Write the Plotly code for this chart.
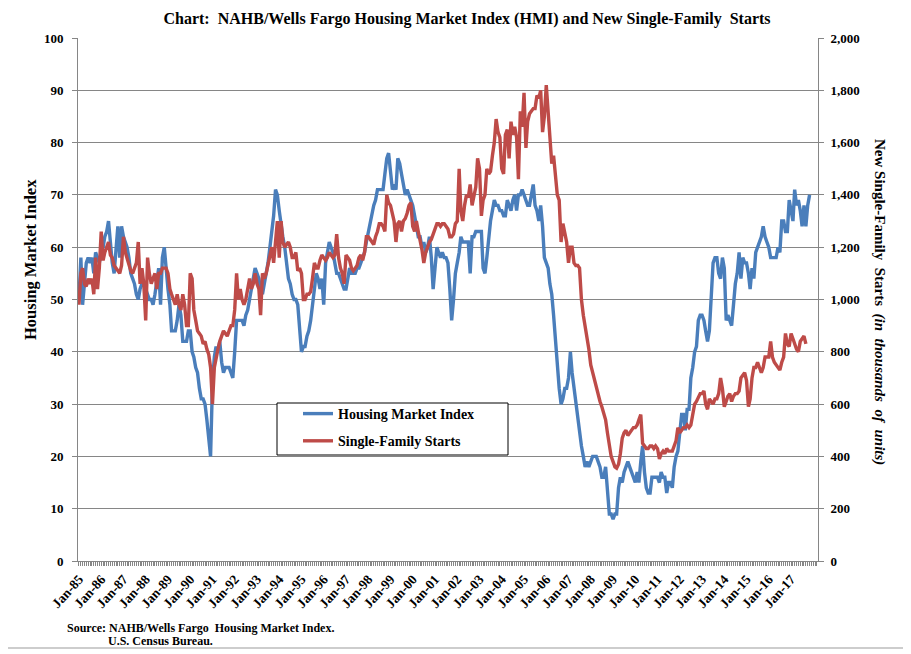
import pandas as pd
import plotly.graph_objects as go

# NAHB/Wells Fargo Housing Market Index, monthly, Jan 1985 - Nov 2017
hmi = [
    50, 58, 49, 54, 57, 58, 57, 58, 55, 59, 58, 57,   # 1985
    59, 60, 62, 63, 65, 60, 57, 55, 60, 64, 58, 64,   # 1986
    62, 61, 60, 58, 55, 54, 53, 51, 50, 52, 53, 53,   # 1987
    52, 51, 50, 50, 49, 51, 53, 56, 49, 58, 60, 55,   # 1988
    52, 49, 44, 44, 44, 46, 49, 47, 42, 42, 42, 44,   # 1989
    44, 40, 39, 37, 36, 33, 31, 31, 30, 27, 23, 20,   # 1990
    34, 39, 41, 40, 42, 38, 36, 37, 37, 37, 36, 35,   # 1991
    40, 46, 46, 46, 46, 45, 47, 48, 50, 52, 54, 56,   # 1992
    55, 54, 52, 51, 53, 55, 57, 60, 63, 66, 71, 70,   # 1993
    67, 64, 62, 60, 57, 54, 53, 51, 50, 50, 49, 45,   # 1994
    40, 41, 41, 43, 44, 46, 49, 51, 55, 54, 52, 54,   # 1995
    49, 57, 59, 61, 60, 59, 57, 55, 55, 54, 53, 52,   # 1996
    52, 54, 56, 55, 55, 55, 56, 56, 57, 58, 59, 61,   # 1997
    63, 65, 66, 68, 69, 71, 71, 71, 71, 74, 77, 78,   # 1998
    75, 71, 72, 71, 77, 76, 74, 72, 70, 71, 70, 69,   # 1999
    68, 66, 64, 62, 62, 60, 61, 59, 60, 62, 58, 52,   # 2000
    56, 60, 59, 58, 59, 58, 58, 57, 52, 46, 50, 55,   # 2001
    57, 59, 62, 61, 61, 61, 61, 55, 62, 62, 63, 63,   # 2002
    63, 63, 56, 55, 58, 62, 65, 67, 69, 68, 68, 67,   # 2003
    67, 66, 66, 69, 68, 67, 69, 70, 67, 70, 70, 71,   # 2004
    70, 69, 68, 68, 70, 72, 68, 67, 65, 68, 64, 58,   # 2005
    57, 56, 53, 51, 47, 42, 39, 33, 30, 31, 33, 33,   # 2006
    35, 40, 36, 33, 30, 28, 24, 22, 20, 18, 19, 18,   # 2007
    19, 20, 20, 20, 19, 18, 16, 16, 18, 14, 9, 9,     # 2008
    8, 9, 9, 14, 16, 15, 17, 18, 19, 18, 17, 16,      # 2009
    15, 17, 15, 19, 22, 17, 14, 13, 13, 16, 16, 16,   # 2010
    16, 15, 17, 16, 16, 13, 15, 15, 14, 18, 20, 21,   # 2011
    25, 28, 28, 25, 29, 29, 35, 37, 40, 41, 46, 47,   # 2012
    47, 46, 44, 42, 44, 52, 57, 58, 58, 55, 54, 58,   # 2013
    56, 46, 47, 46, 45, 49, 53, 55, 59, 54, 58, 57,   # 2014
    57, 55, 52, 56, 54, 59, 60, 61, 62, 64, 62, 61,   # 2015
    60, 58, 58, 58, 58, 60, 59, 65, 65, 63, 63, 69,   # 2016
    67, 65, 71, 68, 69, 67, 64, 68, 64, 68, 70,       # 2017
]

# New single-family starts (thousands of units, SAAR), Jan 1985 - Sep 2017
starts = [
    980, 1100, 1120, 1060, 1050, 1080, 1060, 1080, 1020, 1160, 1040, 1120,   # 1985
    1260, 1150, 1180, 1200, 1220, 1170, 1160, 1130, 1120, 1110, 1100, 1130,  # 1986
    1240, 1180, 1160, 1130, 1110, 1100, 1120, 1140, 1220, 1060, 1120, 1060,  # 1987
    920, 1160, 1100, 1060, 1080, 1100, 1040, 1100, 1100, 1120, 1120, 1120,   # 1988
    1100, 1040, 1020, 1000, 980, 1020, 980, 960, 1020, 980, 900, 900,        # 1989
    1100, 1080, 960, 920, 880, 870, 860, 830, 840, 810, 790, 740,            # 1990
    600, 740, 780, 810, 840, 860, 880, 870, 860, 880, 900, 900,              # 1991
    960, 1100, 1000, 1040, 1000, 980, 1000, 1040, 1080, 1040, 1060, 1100,    # 1992
    1060, 1040, 940, 1100, 1080, 1100, 1130, 1160, 1200, 1140, 1220, 1300,   # 1993
    1160, 1300, 1220, 1200, 1210, 1220, 1200, 1160, 1160, 1180, 1110, 1120,  # 1994
    1100, 1000, 1000, 1020, 1020, 1030, 1080, 1140, 1120, 1120, 1150, 1170,  # 1995
    1160, 1150, 1160, 1180, 1170, 1160, 1170, 1250, 1160, 1120, 1100, 1060,  # 1996
    1170, 1160, 1150, 1120, 1110, 1120, 1130, 1160, 1170, 1150, 1180, 1240,  # 1997
    1240, 1230, 1220, 1210, 1240, 1260, 1290, 1290, 1280, 1260, 1400, 1370,  # 1998
    1360, 1320, 1300, 1220, 1290, 1300, 1260, 1300, 1310, 1330, 1360, 1370,  # 1999
    1280, 1260, 1300, 1260, 1230, 1190, 1140, 1180, 1200, 1220, 1230, 1250,  # 2000
    1270, 1290, 1290, 1280, 1290, 1290, 1280, 1270, 1240, 1240, 1250, 1290,  # 2001
    1300, 1500, 1340, 1300, 1360, 1400, 1390, 1440, 1360, 1400, 1430, 1540,  # 2002
    1500, 1320, 1380, 1400, 1500, 1480, 1490, 1550, 1600, 1690, 1640, 1620,  # 2003
    1500, 1480, 1630, 1650, 1540, 1680, 1630, 1660, 1620, 1460, 1720, 1660,  # 2004
    1790, 1580, 1680, 1710, 1720, 1730, 1730, 1780, 1770, 1800, 1640, 1700,  # 2005
    1820, 1720, 1620, 1520, 1550, 1470, 1400, 1380, 1220, 1290, 1250, 1220,  # 2006
    1140, 1200, 1200, 1140, 1130, 1130, 1120, 1000, 940, 900, 860, 810,      # 2007
    750, 720, 690, 670, 640, 610, 590, 560, 540, 490, 440, 400,              # 2008
    380, 360, 355, 370, 410, 470, 490, 500, 480, 490, 500, 510,              # 2009
    510, 520, 540, 560, 450, 440, 430, 430, 440, 440, 430, 440,              # 2010
    430, 390, 410, 420, 410, 430, 420, 420, 420, 440, 460, 510,              # 2011
    490, 500, 510, 510, 520, 510, 520, 560, 600, 610, 630, 640,              # 2012
    640, 650, 600, 580, 620, 610, 600, 620, 620, 640, 700, 660,              # 2013
    590, 610, 630, 640, 610, 630, 640, 640, 650, 700, 710, 720,              # 2014
    690, 590, 620, 700, 740, 740, 760, 740, 720, 740, 780, 780,              # 2015
    780, 840, 780, 760, 750, 740, 730, 760, 780, 870, 830, 820,              # 2016
    870, 850, 830, 810, 800, 840, 850, 860, 830,                             # 2017
]

start_month = "1985-01-01"
x_hmi = pd.date_range(start_month, periods=len(hmi), freq="MS")
x_starts = pd.date_range(start_month, periods=len(starts), freq="MS")
tick_dates = x_hmi[::12]                      # Jan-85 ... Jan-17
tick_labels = [d.strftime("%b-%y") for d in tick_dates]

FONT = "Liberation Serif"
BLUE = "#4A7EBB"
RED = "#BE4B48"
GRID = "#868686"

# the page body adds an 8px margin; positions below are window pixels
OFF = 8
W, H = 911 - OFF, 654 - OFF
L, R, T, B = 78, 818, 38, 561          # plot area in window pixels
def px(x):
    return (x - L) / (R - L)
def py(y):
    return (B - y) / (B - T)

fig = go.Figure()
fig.add_trace(go.Scatter(
    x=x_hmi, y=hmi, name="Housing Market Index", mode="lines",
    line=dict(color=BLUE, width=3.4), legendgroup="hmi"))
fig.add_trace(go.Scatter(
    x=x_starts, y=starts, name="Single-Family Starts", mode="lines",
    yaxis="y2", line=dict(color=RED, width=3.4), legendgroup="starts"))

fig.update_layout(
    width=W, height=H,
    margin=dict(l=L - OFF, r=W - (R - OFF), t=T - OFF, b=H - (B - OFF)),
    paper_bgcolor="white", plot_bgcolor="white",
    font=dict(family=FONT, color="black", size=13),
    title=dict(
        text="Chart:  NAHB/Wells Fargo Housing Market Index (HMI) and New Single-Family  Starts",
        x=(467 - OFF) / W, xanchor="center", y=1 - (18 - OFF) / H, yanchor="middle",
        font=dict(family=FONT, size=16, weight="bold", color="black")),
    xaxis=dict(
        type="date", range=["1984-12-16", "2018-03-19"],
        tickmode="array", tickvals=tick_dates, ticktext=tick_labels, tickangle=-48,
        showgrid=False, zeroline=False, showline=True, linecolor=GRID,
        ticks="outside", ticklen=4, tickcolor=GRID,
        minor=dict(tickmode="linear", tick0="1985-01-01", dtick="M1",
                   ticks="outside", ticklen=4, tickcolor=GRID, showgrid=False),
        tickfont=dict(family=FONT, size=13.5, weight="bold", color="black")),
    yaxis=dict(
        range=[0, 100], dtick=10, showgrid=True, gridcolor=GRID, gridwidth=1,
        zeroline=False, showline=True, linecolor=GRID,
        ticks="outside", ticklen=5, tickcolor=GRID, ticklabelstandoff=6,
        tickfont=dict(family=FONT, size=13, weight="bold", color="black")),
    yaxis2=dict(
        range=[0, 2000], dtick=200, tickformat=",d", overlaying="y", side="right",
        showgrid=False, zeroline=False, showline=True, linecolor=GRID,
        ticks="outside", ticklen=5, tickcolor=GRID, ticklabelstandoff=4,
        tickfont=dict(family=FONT, size=13, weight="bold", color="black")),
    legend=dict(
        x=px(298), y=py(398), xanchor="left", yanchor="top",
        bgcolor="rgba(0,0,0,0)", borderwidth=0, tracegroupgap=6,
        font=dict(family=FONT, size=14, weight="bold", color="black")),
    showlegend=True,
)

# legend frame
fig.add_shape(type="rect", xref="paper", yref="paper",
              x0=px(277), x1=px(508), y0=py(455), y1=py(403),
              line=dict(color="black", width=1), fillcolor="white", layer="above")
# outer chart-area border (right and bottom edges)
fig.add_shape(type="line", xref="paper", yref="paper",
              x0=px(906), x1=px(906), y0=py(648), y1=py(8),
              line=dict(color="#BDBDBD", width=1.5))
fig.add_shape(type="line", xref="paper", yref="paper",
              x0=px(8), x1=px(906), y0=py(648), y1=py(648),
              line=dict(color="#BDBDBD", width=1.5))

fig.add_annotation(text="<b>Housing Market Index</b>", xref="paper", yref="paper",
                   x=px(30), y=py(260), textangle=-90, showarrow=False,
                   xanchor="center", yanchor="middle",
                   font=dict(family=FONT, size=16.5, color="black"))
fig.add_annotation(text="<b>New Single-Family  Starts  <i>(in  thousands  of  units)</i></b>",
                   xref="paper", yref="paper",
                   x=px(880), y=py(302), textangle=90, showarrow=False,
                   xanchor="center", yanchor="middle",
                   font=dict(family=FONT, size=15, color="black"))
fig.add_annotation(text="<b>Source: NAHB/Wells Fargo  Housing Market Index.</b>",
                   xref="paper", yref="paper", x=px(65), y=py(628),
                   xanchor="left", yanchor="middle", showarrow=False,
                   font=dict(family=FONT, size=12, color="black"))
fig.add_annotation(text="<b>U.S. Census Bureau.</b>",
                   xref="paper", yref="paper", x=px(106), y=py(641),
                   xanchor="left", yanchor="middle", showarrow=False,
                   font=dict(family=FONT, size=12, color="black"))

fig.write_html("out.html")
